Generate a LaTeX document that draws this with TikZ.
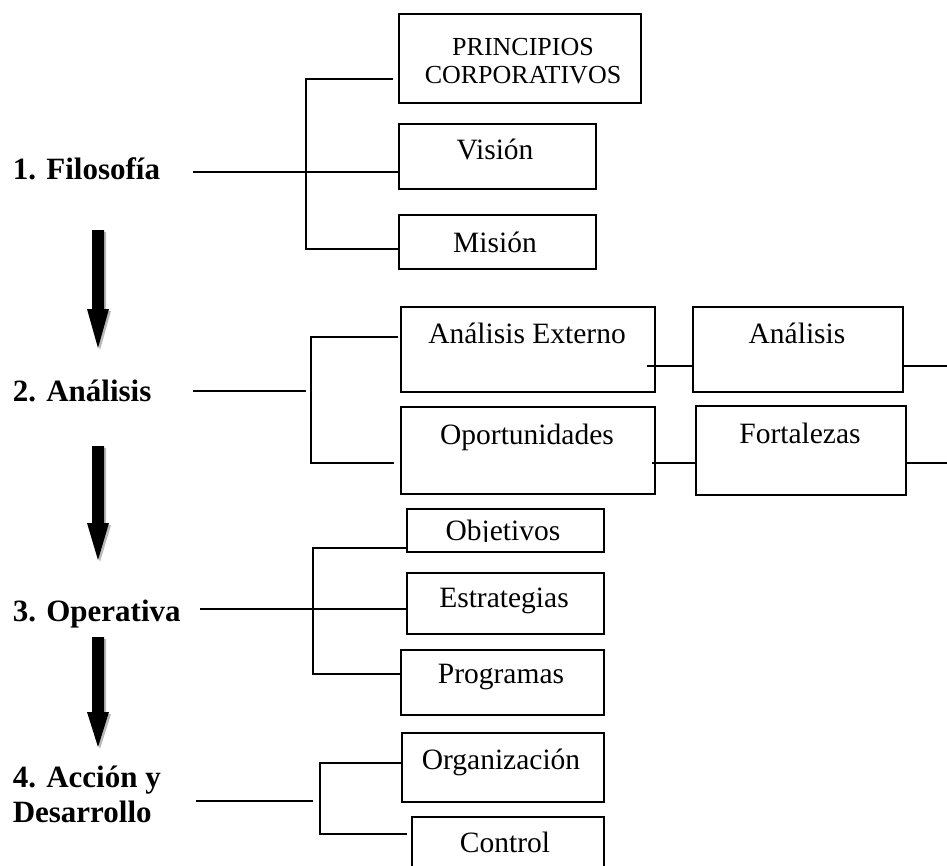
\documentclass[tikz,border=0pt]{standalone}
\usepackage{fontspec}
\setmainfont{Liberation Serif}
\begin{document}
\begin{tikzpicture}[x=1pt,y=-1pt,
  line width=1.5pt,
  box/.style={draw, line width=1.5pt, rectangle, inner sep=0pt, anchor=north west},
  txt/.style={inner sep=0pt, anchor=base, font=\fontsize{29.5}{34}\selectfont},
  captxt/.style={inner sep=0pt, anchor=base, font=\fontsize{26}{28}\selectfont},
  lbl/.style={inner sep=0pt, anchor=base west, font=\fontsize{31}{36}\selectfont\bfseries},
  link/.style={line width=1.5pt}]
\clip (0,0) rectangle (947,865);
\fill[white] (0,0) rectangle (947,865);

% thick downward arrows with a light grey shadow on the right
\newcommand\stagearrow[4]{%
  \fill[gray!55] ([xshift=2pt,yshift=-2pt]#1-6,#2) -- ([xshift=2pt,yshift=-2pt]#1+6,#2) -- ([xshift=2pt,yshift=-2pt]#1+6,#3)
     -- ([xshift=2pt,yshift=-2pt]#1+11,#3) -- ([xshift=2pt,yshift=-2pt]#1,#4) -- ([xshift=2pt,yshift=-2pt]#1-11,#3)
     -- ([xshift=2pt,yshift=-2pt]#1-6,#3) -- cycle;
  \fill[black] (#1-6,#2) -- (#1+6,#2) -- (#1+6,#3) -- (#1+11,#3) -- (#1,#4) -- (#1-11,#3) -- (#1-6,#3) -- cycle;}
\stagearrow{98}{230}{309}{348}
\stagearrow{98}{446}{523}{560}
\stagearrow{98}{637}{712}{747}

% stage labels
\node[lbl] (l1) at (12,179) {1. Filosofía};
\node[lbl] (l2) at (12,401) {2. Análisis};
\node[lbl] (l3) at (12,621) {3. Operativa};
\node[lbl] (l4a) at (12,787) {4. Acción y};
\node[lbl] (l4b) at (12,822) {Desarrollo};

% stage 1 boxes
\node[box, minimum width=242pt, minimum height=89pt] (pc) at (398,13) {};
\node[box, minimum width=197pt, minimum height=65pt] (vis) at (398,123) {};
\node[box, minimum width=197pt, minimum height=54pt] (mis) at (398,214) {};
\node[captxt] (pct1) at (523,55) {PRINCIPIOS};
\node[captxt] (pct2) at (523,83) {CORPORATIVOS};
\node[txt] (vist) at (495,159) {Visión};
\node[txt] (mist) at (495,252) {Misión};

% stage 2 boxes
\node[box, minimum width=254pt, minimum height=85pt] (ae) at (400,306) {};
\node[box, minimum width=254pt, minimum height=87pt] (op) at (400,406) {};
\node[box, minimum width=210pt, minimum height=85pt] (an) at (692,306) {};
\node[box, minimum width=210pt, minimum height=89pt] (fo) at (695,405) {};
\node[txt] (aet) at (527,343) {Análisis Externo};
\node[txt] (opt) at (527,444) {Oportunidades};
\node[txt] (ant) at (797,343) {Análisis};
\node[txt] (fot) at (800,443) {Fortalezas};

% stage 3 boxes
\node[box, minimum width=197pt, minimum height=43pt] (obj) at (406,508) {};
\node[box, minimum width=197pt, minimum height=61pt] (est) at (406,572) {};
\node[box, minimum width=203pt, minimum height=65pt] (pro) at (400,649) {};
\begin{scope}
  \clip (406,500) rectangle (603,541.5);
  \node[txt] (objt) at (503,540) {Objetivos};
\end{scope}
\node[txt] (estt) at (504,607) {Estrategias};
\node[txt] (prot) at (501,683) {Programas};

% stage 4 boxes
\node[box, minimum width=202pt, minimum height=69pt] (org) at (401,732) {};
\node[box, minimum width=192pt, minimum height=80pt] (ctl) at (411,816) {};
\node[txt] (orgt) at (501,769) {Organización};
\node[txt] (ctlt) at (505,852) {Control};

% connectors, stage 1
\coordinate (f0) at (193,172);
\coordinate (fa) at (306,79);
\coordinate (fb) at (306,249);
\draw[link] (f0) -- (f0 -| vis.west);
\draw[link] ([xshift=-5pt]pc.west |- fa) -- (fa) -- (fb) -- (mis.west |- fb);

% connectors, stage 2
\coordinate (a0) at (193,391);
\coordinate (a1) at (306,391);
\coordinate (aa) at (311,337);
\coordinate (ab) at (311,463);
\draw[link] (a0) -- (a1);
\draw[link] ([xshift=-2pt]ae.west |- aa) -- (aa) -- (ab) -- ([xshift=-6pt]op.west |- ab);
\coordinate (ea) at (647,366);
\coordinate (eb) at (652,463);
\coordinate (ra) at (947,366);
\coordinate (rb) at (947,463);
\draw[link] (ea) -- (an.west |- ea);
\draw[link] (eb) -- (fo.west |- eb);
\draw[link] (an.east |- ra) -- (ra);
\draw[link] (fo.east |- rb) -- (rb);

% connectors, stage 3
\coordinate (o0) at (200,609);
\coordinate (oa) at (313,548);
\coordinate (ob) at (313,674);
\draw[link] (o0) -- (o0 -| est.west);
\draw[link] (obj.west |- oa) -- (oa) -- (ob) -- (pro.west |- ob);

% connectors, stage 4
\coordinate (c0) at (196,801);
\coordinate (c1) at (313,801);
\coordinate (ca) at (320,763);
\coordinate (cb) at (320,834);
\draw[link] (c0) -- (c1);
\draw[link] (org.west |- ca) -- (ca) -- (cb) -- ([xshift=-4pt]ctl.west |- cb);
\end{tikzpicture}
\end{document}
